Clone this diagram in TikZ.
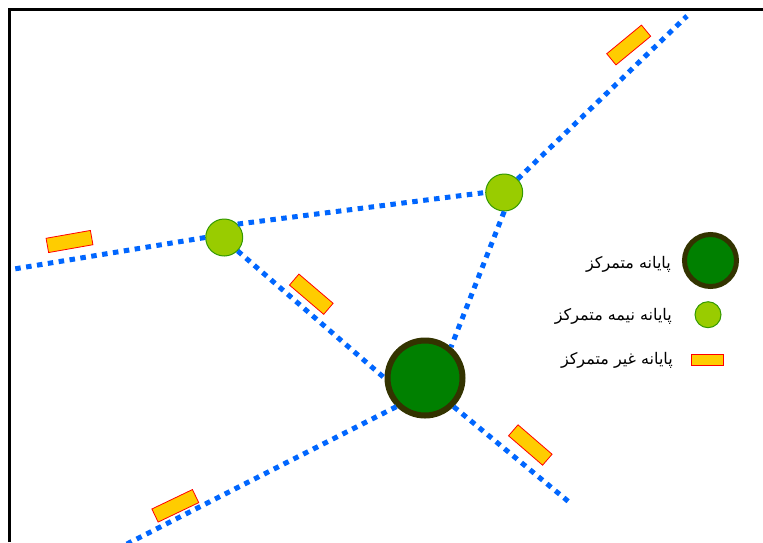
\documentclass[tikz,border=0pt]{standalone}
\usepackage{fontspec}
\newfontfamily\arabicfont[Script=Arabic]{DejaVu Sans}
\TeXXeTstate=1
\usepackage{tikz}
\definecolor{linkblue}{RGB}{0,102,255}
\definecolor{hubgreen}{RGB}{0,128,0}
\definecolor{hubrim}{RGB}{51,51,0}
\definecolor{semigreen}{RGB}{153,204,0}
\definecolor{semirim}{RGB}{51,153,0}
\definecolor{termyellow}{RGB}{255,204,0}
\tikzstyle{link} = [linkblue, line width=5pt, dash pattern=on 5.5pt off 5.5pt]
\tikzstyle{hub} = [circle, draw=hubrim, fill=hubgreen, line width=6pt,
   inner sep=0pt, minimum size=75pt]
\tikzstyle{semihub} = [circle, draw=semirim, fill=semigreen, line width=1pt,
   inner sep=0pt, minimum size=37pt]
\tikzstyle{terminal} = [rectangle, draw=red, fill=termyellow, line width=0.8pt,
   inner sep=0pt, minimum width=45pt, minimum height=14.5pt]
\tikzstyle{legendtext} = [anchor=east, inner sep=0pt,
   font=\arabicfont\fontsize{16}{19}\selectfont]

\begin{document}
\begin{tikzpicture}[x=1pt, y=-1pt]
  \useasboundingbox (0,0) rectangle (763,542);
  \draw[line width=3pt] (9.5,542) -- (9.5,9.3) -- (763,9.3);

  \node[hub] at (425,378)(c){};
  \node[semihub] at (224.2,237.5)(a){};
  \node[semihub] at (504.2,192.5)(b){};

  \coordinate (w) at (11,269.5);
  \coordinate (n) at (687,16);
  \coordinate (s) at (569,502);
  \coordinate (sw) at (119,548);

  \draw[link] (a.west) -- (w);
  \draw[link] (a.north east) -- (b.west);
  \draw[link] (b.north east) -- (n);
  \draw[link] (a.south east) -- (c.west);
  \draw[link] (b.south) -- (c.50);
  \draw[link] (c.south east) -- (s);
  \draw[link] (c.south west) -- (sw);

  \node[terminal, rotate=10] at (69.5,241.5)(r1){};
  \node[terminal, rotate=-40.5] at (311.3,294.2)(r2){};
  \node[terminal, rotate=39.5] at (628.7,45)(r3){};
  \node[terminal, rotate=-40.8] at (530.3,445)(r4){};
  \node[terminal, rotate=25.6] at (175.3,505.8)(r5){};

  \node[hub, line width=5pt, minimum size=52pt] at (710.5,260.5)(k1){};
  \node[semihub, minimum size=26pt] at (708,314.7)(k2){};
  \node[terminal, minimum width=32pt, minimum height=11pt] at (707,359.7)(k3){};
  \node[legendtext] at (671,264.5)(t1){\beginR پایانه متمرکز\endR};
  \node[legendtext] at (672,316.5)(t2){\beginR پایانه نیمه متمرکز\endR};
  \node[legendtext] at (673,360.5)(t3){\beginR پایانه غیر متمرکز\endR};
\end{tikzpicture}
\end{document}
